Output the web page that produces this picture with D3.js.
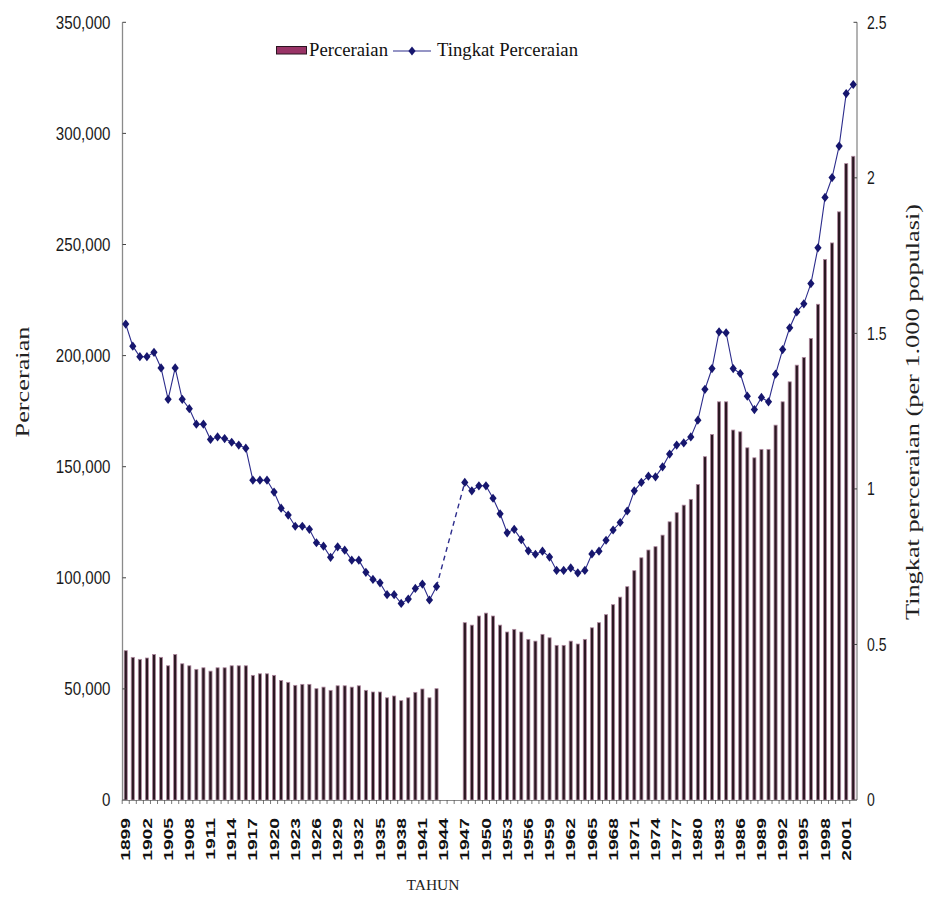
<!DOCTYPE html>
<html>
<head>
<meta charset="utf-8">
<script src="https://cdn.jsdelivr.net/npm/d3@7/dist/d3.min.js"></script>
<style>
  html, body { margin: 0; padding: 0; background: #fff; }
  svg { display: block; }
</style>
</head>
<body>
<svg id="chart" width="927" height="902"></svg>
<script>
// Divorces in the United States, 1899–2002 (no records 1944–1946)
const firstYear = 1899, lastYear = 2002;
const gapStart = 1944, gapEnd = 1946;

// Number of divorces (Perceraian), 1899–1943
const divorcesEarly = [
  67200, 64200, 63300, 63900, 65500, 64200, 60400, 65500, 61300, 60400,
  58800, 59500, 58000, 59500, 59500, 60400, 60400, 60400, 56100, 56800,
  56800, 56100, 53800, 52950, 51600, 52050, 52050, 50100, 50800, 49350,
  51400, 51400, 50800, 51400, 49350, 48600, 48600, 46000, 46800, 44700,
  46000, 48450, 49950, 46000, 50100
];
// Number of divorces, 1947–2002
const divorcesLate = [
  79800, 78700, 82800, 84100, 82800, 78700, 75600, 76800, 75600, 72300,
  71500, 74550, 73000, 69600, 69600, 71500, 70200, 72300, 77500, 79800,
  83400, 87900, 91300, 96000, 103200, 109000, 112500, 114000, 119200, 125200,
  129300, 132700, 135300, 142000, 154500, 164500, 179200, 179200, 166500, 165700,
  158500, 154000, 157800, 157800, 168700, 179200, 188200, 195700, 199200, 207700,
  223100, 243300, 250700, 264700, 286400, 289700
];
// Divorce rate per 1,000 population (Tingkat Perceraian), 1899–1943
const rateEarly = [
  1.530, 1.459, 1.425, 1.425, 1.439, 1.389, 1.288, 1.389, 1.288, 1.258,
  1.208, 1.208, 1.159, 1.167, 1.162, 1.150, 1.141, 1.131, 1.028, 1.028,
  1.028, 0.990, 0.938, 0.916, 0.880, 0.880, 0.870, 0.827, 0.816, 0.780,
  0.814, 0.803, 0.771, 0.771, 0.732, 0.709, 0.698, 0.660, 0.660, 0.632,
  0.646, 0.680, 0.694, 0.643, 0.686
];
// Divorce rate per 1,000 population, 1947–2002
const rateLate = [
  1.021, 0.994, 1.010, 1.010, 0.970, 0.920, 0.859, 0.870, 0.837, 0.801,
  0.790, 0.800, 0.781, 0.738, 0.738, 0.746, 0.730, 0.738, 0.791, 0.800,
  0.835, 0.868, 0.892, 0.929, 0.994, 1.021, 1.041, 1.039, 1.071, 1.112,
  1.141, 1.148, 1.167, 1.221, 1.320, 1.387, 1.505, 1.502, 1.387, 1.371,
  1.298, 1.255, 1.294, 1.280, 1.369, 1.448, 1.518, 1.569, 1.595, 1.660,
  1.775, 1.937, 2.001, 2.102, 2.271, 2.300
];

const leftTicks = [0, 50000, 100000, 150000, 200000, 250000, 300000, 350000];
const rightTicks = [0, 0.5, 1, 1.5, 2, 2.5];
const yearLabels = [1899, 1902, 1905, 1908, 1911, 1914, 1917, 1920, 1923, 1926,
  1929, 1932, 1935, 1938, 1941, 1944, 1947, 1950, 1953, 1956, 1959, 1962, 1965,
  1968, 1971, 1974, 1977, 1980, 1983, 1986, 1989, 1992, 1995, 1998, 2001];

const seriesBarName = "Perceraian";
const seriesLineName = "Tingkat Perceraian";
const leftTitle = "Perceraian";
const rightTitle = "Tingkat perceraian (per 1.000 populasi)";
const xTitle = "TAHUN";

// ---- assemble per-year records ----
const years = d3.range(firstYear, lastYear + 1);
const records = years.map(y => {
  let count = null, rate = null;
  if (y < gapStart) { count = divorcesEarly[y - firstYear]; rate = rateEarly[y - firstYear]; }
  else if (y > gapEnd) { count = divorcesLate[y - gapEnd - 1]; rate = rateLate[y - gapEnd - 1]; }
  return { year: y, count, rate };
});

// ---- layout ----
const svg = d3.select("#chart");
const plotLeft = 122.2, plotRight = 856.8, plotTop = 22.3, plotBottom = 800;

const x = d3.scaleBand().domain(years).range([plotLeft, plotRight]).padding(0);
const yL = d3.scaleLinear().domain([0, 350000]).range([plotBottom, plotTop]);
const yR = d3.scaleLinear().domain([0, 2.5]).range([plotBottom, plotTop]);
const cx = y => x(y) + x.bandwidth() / 2;

const axisColor = "#8a8a8a";
const barW = x.bandwidth() * 0.44;

// squeeze or stretch a text element to a given length
function fitText(sel, factor) {
  sel.each(function () {
    const n = this.getComputedTextLength();
    d3.select(this).attr("textLength", n * factor).attr("lengthAdjust", "spacingAndGlyphs");
  });
}

// ---- bars ----
svg.append("g").attr("class", "bars")
  .selectAll("rect")
  .data(records.filter(d => d.count != null))
  .join("rect")
  .attr("x", d => cx(d.year) - barW / 2)
  .attr("width", barW)
  .attr("y", d => yL(d.count))
  .attr("height", d => yL(0) - yL(d.count))
  .attr("fill", "#2b1822")
  .attr("stroke", "#b08aa0")
  .attr("stroke-width", 0.8);

// ---- axes ----
const gL = svg.append("g").attr("transform", `translate(${plotLeft + 0.3},0)`);
gL.append("line").attr("y1", plotTop).attr("y2", plotBottom)
  .attr("stroke", axisColor).attr("stroke-width", 1.3);
gL.selectAll("line.tk").data(leftTicks).join("line").attr("class", "tk")
  .attr("x1", 0).attr("x2", 3.5).attr("y1", d => yL(d)).attr("y2", d => yL(d))
  .attr("stroke", "#444").attr("stroke-width", 1);
const leftLabels = gL.selectAll("text").data(leftTicks).join("text")
  .attr("x", -12).attr("y", d => yL(d)).attr("dy", "0.36em")
  .attr("text-anchor", "end")
  .attr("font-family", "'Liberation Sans', Arial, sans-serif")
  .attr("font-size", 18).attr("fill", "#1a1a1a")
  .text(d => d3.format(",")(d));
fitText(leftLabels, 0.84);

const gR = svg.append("g").attr("transform", `translate(${plotRight + 0.2},0)`);
gR.append("line").attr("y1", plotTop).attr("y2", plotBottom)
  .attr("stroke", axisColor).attr("stroke-width", 1.3);
gR.selectAll("line.tk").data(rightTicks).join("line").attr("class", "tk")
  .attr("x1", -3.5).attr("x2", 0).attr("y1", d => yR(d)).attr("y2", d => yR(d))
  .attr("stroke", "#444").attr("stroke-width", 1);
const rightLabels = gR.selectAll("text").data(rightTicks).join("text")
  .attr("x", 10).attr("y", d => yR(d)).attr("dy", "0.36em")
  .attr("text-anchor", "start")
  .attr("font-family", "'Liberation Sans', Arial, sans-serif")
  .attr("font-size", 18).attr("fill", "#1a1a1a")
  .text(d => String(d));
fitText(rightLabels, 0.78);

// bottom axis with a tick at every year boundary
const gB = svg.append("g");
gB.append("line").attr("x1", plotLeft).attr("x2", plotRight)
  .attr("y1", plotBottom + 0.5).attr("y2", plotBottom + 0.5)
  .attr("stroke", axisColor).attr("stroke-width", 1.2);
gB.selectAll("line.tk").data(years).join("line").attr("class", "tk")
  .attr("x1", d => x(d)).attr("x2", d => x(d))
  .attr("y1", plotBottom).attr("y2", plotBottom + 4)
  .attr("stroke", "#555").attr("stroke-width", 0.8);
const xLabels = gB.selectAll("text").data(yearLabels).join("text")
  .attr("transform", d => `translate(${cx(d) + 4.6},818) rotate(-90)`)
  .attr("text-anchor", "end")
  .attr("font-family", "'Liberation Sans', Arial, sans-serif")
  .attr("font-weight", "bold")
  .attr("font-size", 13).attr("fill", "#111")
  .text(d => d);
fitText(xLabels, 1.48);

// ---- divorce rate line ----
const lineColor = "#2c2c8c";
const markColor = "#16166e";
const line = d3.line().defined(d => d.rate != null)
  .x(d => cx(d.year)).y(d => yR(d.rate));
svg.append("path").datum(records)
  .attr("d", line).attr("fill", "none")
  .attr("stroke", lineColor).attr("stroke-width", 1.1);

// dashed bridge across the years without records
const bridge = [records.find(d => d.year === gapStart - 1), records.find(d => d.year === gapEnd + 1)];
svg.append("path").datum(bridge)
  .attr("d", d3.line().x(d => cx(d.year)).y(d => yR(d.rate)))
  .attr("fill", "none").attr("stroke", lineColor)
  .attr("stroke-width", 1.4).attr("stroke-dasharray", "5,4");

const diamond = "M0,-4.6L3.6,0L0,4.6L-3.6,0Z";
svg.append("g").selectAll("path")
  .data(records.filter(d => d.rate != null))
  .join("path")
  .attr("transform", d => `translate(${cx(d.year)},${yR(d.rate)})`)
  .attr("d", diamond).attr("fill", markColor);

// ---- legend ----
const lg = svg.append("g");
lg.append("rect").attr("x", 276.5).attr("y", 46.5).attr("width", 30).attr("height", 7.5)
  .attr("fill", "#993366").attr("stroke", "#2a1420").attr("stroke-width", 1);
const lt1 = lg.append("text").attr("x", 309).attr("y", 56)
  .attr("font-family", "'Liberation Serif', 'Times New Roman', serif")
  .attr("font-size", 18).attr("fill", "#111").text(seriesBarName);
lt1.attr("textLength", 79).attr("lengthAdjust", "spacingAndGlyphs");
lg.append("line").attr("x1", 393).attr("x2", 431).attr("y1", 51).attr("y2", 51)
  .attr("stroke", lineColor).attr("stroke-width", 1.2);
lg.append("path").attr("transform", "translate(412,51)").attr("d", diamond).attr("fill", markColor);
const lt2 = lg.append("text").attr("x", 437).attr("y", 56)
  .attr("font-family", "'Liberation Serif', 'Times New Roman', serif")
  .attr("font-size", 18).attr("fill", "#111").text(seriesLineName);
lt2.attr("textLength", 141).attr("lengthAdjust", "spacingAndGlyphs");

// ---- axis titles ----
svg.append("text")
  .attr("transform", "translate(29,382) rotate(-90)")
  .attr("text-anchor", "middle")
  .attr("font-family", "'Liberation Serif', 'Times New Roman', serif")
  .attr("font-size", 19).attr("fill", "#222")
  .attr("textLength", 111).attr("lengthAdjust", "spacingAndGlyphs")
  .text(leftTitle);

svg.append("text")
  .attr("transform", "translate(919,412) rotate(-90)")
  .attr("text-anchor", "middle")
  .attr("font-family", "'Liberation Serif', 'Times New Roman', serif")
  .attr("font-size", 19).attr("fill", "#222")
  .attr("textLength", 416).attr("lengthAdjust", "spacingAndGlyphs")
  .text(rightTitle);

svg.append("text")
  .attr("x", 433).attr("y", 890)
  .attr("text-anchor", "middle")
  .attr("font-family", "'Liberation Serif', 'Times New Roman', serif")
  .attr("font-size", 15.5).attr("fill", "#222")
  .text(xTitle);
</script>
</body>
</html>
